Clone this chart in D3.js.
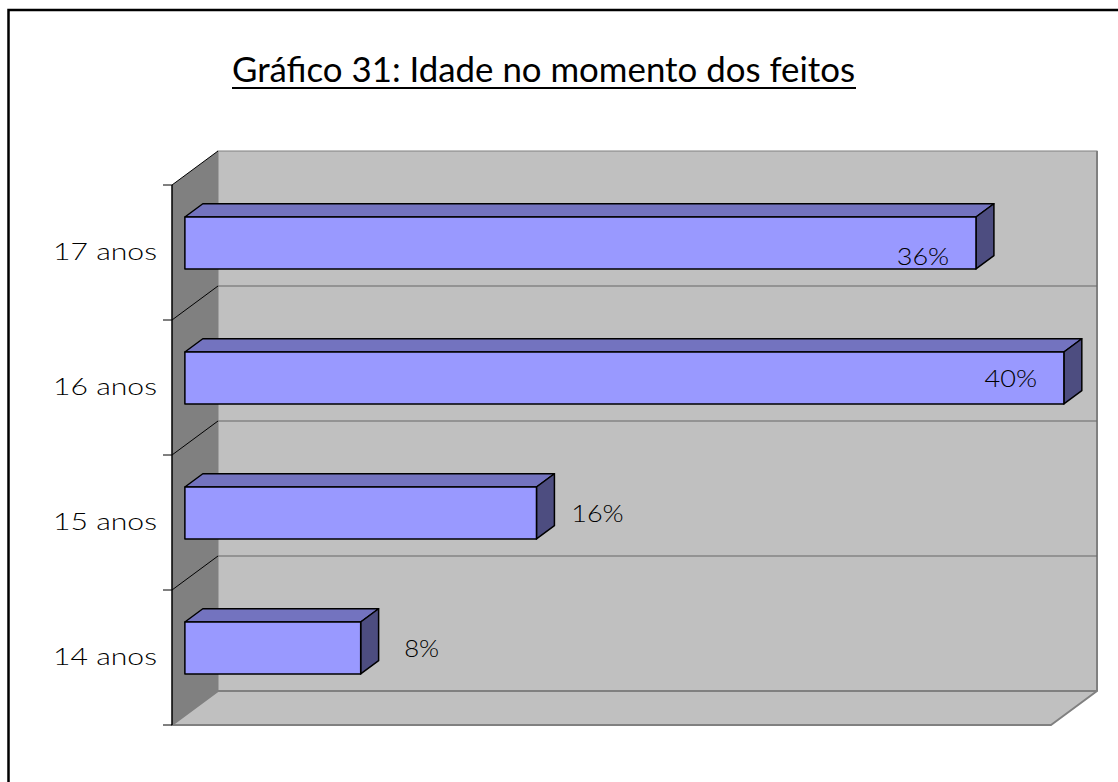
<!DOCTYPE html>
<html>
<head>
<meta charset="utf-8">
<script src="https://cdn.jsdelivr.net/npm/d3@7"></script>
<style>
  body { margin: 0; background: #fff; }
  svg text { font-family: "Lato", "Open Sans", sans-serif; fill: #000; }
</style>
</head>
<body>
<div id="chart"></div>
<script>
// chart data
const categories = ['17 anos', '16 anos', '15 anos', '14 anos'];
const values = [36, 40, 16, 8];
const valueLabels = ['36%', '40%', '16%', '8%'];
const axisMax = 40;
const titleText = 'Gráfico 31: Idade no momento dos feitos';

const width = 1118, height = 782;

// plot box (front plane) and 3D depth offset
const front = {left: 172, right: 1051, top: 185, bottom: 725};
const depthX = 46, depthY = 34;
const barZ = [0.28, 0.67];

const svg = d3.select('#chart').append('svg')
    .attr('width', width)
    .attr('height', height);

const x = d3.scaleLinear().domain([0, axisMax]).range([front.left, front.right]);
const y = d3.scaleBand().domain(categories).range([front.top, front.bottom]).padding(0);

// project a point of the front plane to depth z (0 = front, 1 = back)
function proj(px, py, z) {
    return [px + z * depthX, py - z * depthY];
}
function poly(pts) {
    return pts.map((p) => p.join(',')).join(' ');
}

// frame
svg.append('path')
    .attr('d', `M8.5,${height} L8.5,10 L${width},10`)
    .attr('fill', 'none')
    .attr('stroke', '#000')
    .attr('stroke-width', 2.5);

// back wall
const bwTL = proj(front.left, front.top, 1);
const bwBR = proj(front.right, front.bottom, 1);
svg.append('rect')
    .attr('x', bwTL[0])
    .attr('y', bwTL[1])
    .attr('width', bwBR[0] - bwTL[0])
    .attr('height', bwBR[1] - bwTL[1])
    .attr('fill', '#c0c0c0')
    .attr('stroke', '#808080')
    .attr('stroke-width', 1);
svg.append('line')
    .attr('x1', bwBR[0]).attr('x2', bwBR[0])
    .attr('y1', bwTL[1]).attr('y2', bwBR[1])
    .attr('stroke', '#808080')
    .attr('stroke-width', 2);

// side wall
svg.append('polygon')
    .attr('points', poly([
        [front.left, front.top], proj(front.left, front.top, 1),
        proj(front.left, front.bottom, 1), [front.left, front.bottom]
    ]))
    .attr('fill', '#808080');

// floor
svg.append('polygon')
    .attr('points', poly([
        [front.left, front.bottom], proj(front.left, front.bottom, 1),
        proj(front.right, front.bottom, 1), [front.right, front.bottom]
    ]))
    .attr('fill', '#c0c0c0')
    .attr('stroke', '#808080')
    .attr('stroke-width', 2)
    .attr('stroke-linejoin', 'round');

// gridlines at the band boundaries
const bounds = categories.map((c) => y(c)).concat([front.bottom]);
const inner = bounds.slice(1, -1);
svg.selectAll('.grid-back')
    .data(inner)
    .enter()
    .append('line')
    .attr('class', 'grid-back')
    .attr('x1', (d) => proj(front.left, d, 1)[0])
    .attr('x2', (d) => proj(front.right, d, 1)[0])
    .attr('y1', (d) => proj(front.left, d, 1)[1])
    .attr('y2', (d) => proj(front.left, d, 1)[1])
    .attr('stroke', '#666')
    .attr('stroke-width', 1.2);
svg.selectAll('.grid-side')
    .data(bounds.slice(0, -1))
    .enter()
    .append('line')
    .attr('class', 'grid-side')
    .attr('x1', front.left)
    .attr('y1', (d) => d)
    .attr('x2', (d) => proj(front.left, d, 1)[0])
    .attr('y2', (d) => proj(front.left, d, 1)[1])
    .attr('stroke', '#000')
    .attr('stroke-width', 1);

// category axis line + ticks
svg.append('line')
    .attr('x1', front.left).attr('x2', front.left)
    .attr('y1', front.top).attr('y2', front.bottom)
    .attr('stroke', '#000')
    .attr('stroke-width', 1.5);
svg.selectAll('.tick')
    .data(bounds)
    .enter()
    .append('line')
    .attr('class', 'tick')
    .attr('x1', front.left - 9).attr('x2', front.left)
    .attr('y1', (d) => d).attr('y2', (d) => d)
    .attr('stroke', '#000')
    .attr('stroke-width', 1);

svg.selectAll('.cat-label')
    .data(categories)
    .enter()
    .append('text')
    .attr('class', 'cat-label')
    .attr('x', front.left - 15)
    .attr('y', (d) => y(d) + y.bandwidth() / 2 + 7)
    .attr('text-anchor', 'end')
    .attr('textLength', 104)
    .attr('lengthAdjust', 'spacingAndGlyphs')
    .style('font-size', '23px')
    .style('font-weight', 300)
    .text((d) => d);

// bars
const barH = y.bandwidth() * 0.385;
const bars = categories.map((c, i) => {
    const yc = y(c) + y.bandwidth() / 2;
    return {cat: c, value: values[i], label: valueLabels[i],
            x0: x(0), x1: x(values[i]), y0: yc - barH / 2, y1: yc + barH / 2, yc: yc};
});

const g = svg.selectAll('.bar')
    .data(bars)
    .enter()
    .append('g')
    .attr('class', 'bar');

const z0 = barZ[0], z1 = barZ[1];
// top face
g.append('polygon')
    .attr('points', (d) => poly([
        proj(d.x0, d.y0, z0), proj(d.x0, d.y0, z1),
        proj(d.x1, d.y0, z1), proj(d.x1, d.y0, z0)
    ]))
    .attr('fill', '#7373bf')
    .attr('stroke', '#000')
    .attr('stroke-width', 1.5)
    .attr('stroke-linejoin', 'round');
// end face
g.append('polygon')
    .attr('points', (d) => poly([
        proj(d.x1, d.y0, z0), proj(d.x1, d.y0, z1),
        proj(d.x1, d.y1, z1), proj(d.x1, d.y1, z0)
    ]))
    .attr('fill', '#4d4d80')
    .attr('stroke', '#000')
    .attr('stroke-width', 1.5)
    .attr('stroke-linejoin', 'round');
// front face
g.append('polygon')
    .attr('points', (d) => poly([
        proj(d.x0, d.y0, z0), proj(d.x1, d.y0, z0),
        proj(d.x1, d.y1, z0), proj(d.x0, d.y1, z0)
    ]))
    .attr('fill', '#9999ff')
    .attr('stroke', '#000')
    .attr('stroke-width', 1.5)
    .attr('stroke-linejoin', 'round');

// value labels: inside the end for long bars, outside for short ones
g.append('text')
    .attr('x', (d) => {
        const end = proj(d.x1, d.y0, z0)[0];
        return d.value > 30 ? end - 53 : end + 61;
    })
    .attr('y', (d) => d.yc + (d.value === 36 ? 12 : -1))
    .attr('text-anchor', 'middle')
    .attr('textLength', (d) => d.label.length * 17.5)
    .attr('lengthAdjust', 'spacingAndGlyphs')
    .style('font-size', '23px')
    .style('font-weight', 300)
    .text((d) => d.label);

// title
svg.append('text')
    .attr('x', 543.5)
    .attr('y', 82)
    .attr('text-anchor', 'middle')
    .attr('textLength', 623)
    .attr('lengthAdjust', 'spacingAndGlyphs')
    .style('font-size', '34px')
    .text(titleText);
svg.append('line')
    .attr('x1', 232).attr('x2', 856)
    .attr('y1', 88).attr('y2', 88)
    .attr('stroke', '#000')
    .attr('stroke-width', 2);
</script>
</body>
</html>
